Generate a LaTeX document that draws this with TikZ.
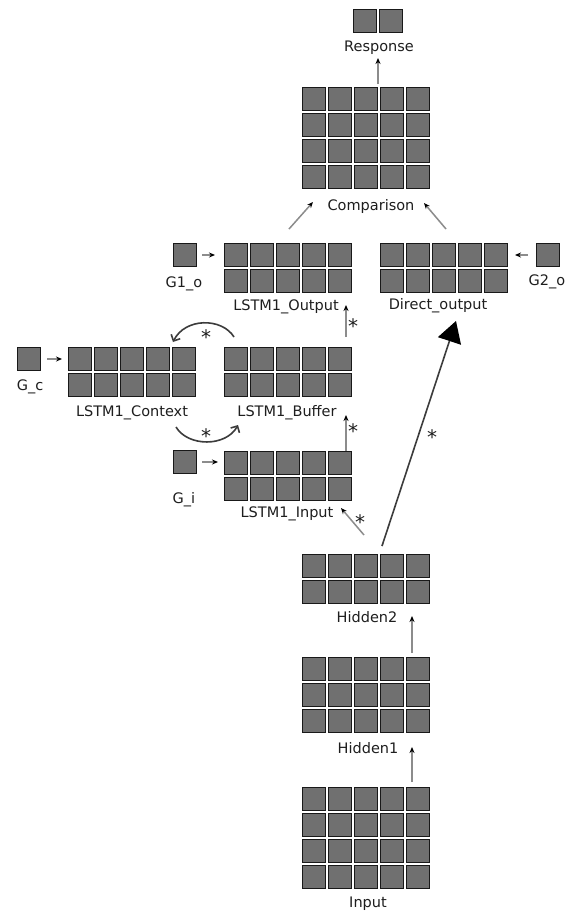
\documentclass[tikz,border=0pt]{standalone}
\usepackage{fontspec}
\setmainfont{DejaVu Sans}
\usetikzlibrary{arrows.meta,calc}
\definecolor{cellfill}{RGB}{112,112,112}
\definecolor{celledge}{RGB}{25,25,25}
\definecolor{arrowgray}{RGB}{140,140,140}
\definecolor{bigarrow}{RGB}{60,60,60}
\definecolor{txt}{RGB}{30,30,30}
\tikzset{
  cell/.style={fill=cellfill,draw=celledge,line width=1pt},
  gridbox/.style={rectangle,inner sep=0pt,outer sep=0pt,draw=none},
  lbl/.style={font=\fontsize{14.5}{16}\selectfont,text=txt,inner sep=1pt},
  starlbl/.style={font=\fontsize{20}{20}\selectfont,text=txt,inner sep=0pt},
  garrow/.style={draw=arrowgray,line width=1.5pt,-{Stealth[length=6pt,width=5pt,color=black]}},
  curvearrow/.style={draw=bigarrow,line width=1.6pt,-{Straight Barb[length=5pt,width=10pt]}},
  bigarr/.style={draw=bigarrow,line width=1.6pt,-{Triangle[length=21pt,width=24pt,color=black]}}
}
\newcommand{\cellgrid}[5]{%
  \pgfmathsetmacro{\gw}{(#4-1)*26+24}%
  \pgfmathsetmacro{\gh}{(#5-1)*26+24}%
  \node[gridbox,minimum width=\gw pt,minimum height=\gh pt] (#1) at ({#2+\gw/2},{#3+\gh/2}) {};
  \foreach \ci in {1,...,#4}{\foreach \cj in {1,...,#5}{%
    \draw[cell] ({#2+(\ci-1)*26+0.5},{#3+(\cj-1)*26+0.5}) rectangle ++(23,23);}}%
}
\begin{document}
\begin{tikzpicture}[x=1pt,y=-1pt]
\fill[white] (0,0) rectangle (572,911);
\useasboundingbox (0,0) rectangle (572,911);
% grids
\cellgrid{Response}{353}{9}{2}{1}
\cellgrid{Comparison}{302}{87}{5}{4}
\cellgrid{LO}{224}{243}{5}{2}
\cellgrid{DO}{380}{243}{5}{2}
\cellgrid{Gone}{173}{243}{1}{1}
\cellgrid{Gtwo}{536}{243}{1}{1}
\cellgrid{Gc}{17}{347}{1}{1}
\cellgrid{Ctx}{68}{347}{5}{2}
\cellgrid{Buf}{224}{347}{5}{2}
\cellgrid{Gi}{173}{450}{1}{1}
\cellgrid{LIn}{224}{451}{5}{2}
\cellgrid{Htwo}{302}{554}{5}{2}
\cellgrid{Hone}{302}{657}{5}{3}
\cellgrid{In}{302}{787}{5}{4}
% labels
\node[lbl] (ResponseL) at (379,48) {Response};
\node[lbl] (ComparisonL) at (371,206) {Comparison};
\node[lbl] (GoneL) at (184,284) {G1\_o};
\node[lbl] (LOL) at (286,307) {LSTM1\_Output};
\node[lbl] (DOL) at (438,306) {Direct\_output};
\node[lbl] (GtwoL) at (547,282) {G2\_o};
\node[lbl] (GcL) at (30,387) {G\_c};
\node[lbl] (CtxL) at (132,413) {LSTM1\_Context};
\node[lbl] (BufL) at (287,413) {LSTM1\_Buffer};
\node[lbl] (GiL) at (184,500) {G\_i};
\node[lbl] (LInL) at (287,514) {LSTM1\_Input};
\node[lbl] (HtwoL) at (367,617) {Hidden2};
\node[lbl] (HoneL) at (368,748) {Hidden1};
\node[lbl] (InL) at (368,904) {Input};
% short arrows
\draw[garrow] ($(Comparison.north)+(12,-3)$) -- ($(Response.south)+(0,25)$);
\draw[garrow] ($(LO.north)+(1,-14)$) -- ($(Comparison.south west)+(11,13)$);
\draw[garrow] ($(DO.north)+(2,-14)$) -- ($(Comparison.south east)+(-6,14)$);
\draw[garrow] ($(Gone.east)+(5,0)$) -- ($(LO.west |- Gone.east)+(-9,0)$);
\draw[garrow] ($(Gtwo.west)+(-8,0)$) -- ($(DO.east |- Gtwo.west)+(7,0)$);
\draw[garrow] ($(Gc.east)+(6,0)$) -- ($(Ctx.west |- Gc.east)+(-6,0)$);
\draw[garrow] ($(Gi.east)+(5,0)$) -- ($(LIn.west |- Gi.east)+(-6,0)$);
\draw[garrow] ($(Buf.north east)+(-6,-10)$) -- ($(LO.south east)+(-6,12)$);
\draw[garrow] ($(LIn.north east)+(-6,0)$) -- ($(Buf.south east)+(-6,18)$);
\draw[garrow] ($(Htwo.north)+(-2,-19)$) -- ($(LIn.south east)+(-11,7)$);
\draw[garrow] ($(Hone.north east)+(-18,-4)$) -- ($(Htwo.south east)+(-18,12)$);
\draw[garrow] ($(In.north east)+(-18,-5)$) -- ($(Hone.south east)+(-18,14)$);
% big arrow
\draw[bigarr] ($(Htwo.north)+(16,-8)$) -- ($(DO.south)+(12,28)$);
% curved arrows
\draw[curvearrow] ($(Buf.north west)+(10,-10)$) .. controls +(-12,-19.5) and +(12,-24.5) .. ($(Ctx.north east)+(-23,-5)$);
\draw[curvearrow] ($(Ctx.south east)+(-20,30)$) .. controls +(12,20) and +(-12,22) .. ($(Buf.south west)+(14,28)$);
% stars
\node[starlbl] (s1) at (353,326) {*};
\node[starlbl] (s2) at (353,431) {*};
\node[starlbl] (s3) at (360,522) {*};
\node[starlbl] (s4) at (432,437) {*};
\node[starlbl] (s5) at (206,337) {*};
\node[starlbl] (s6) at (206,436) {*};
\end{tikzpicture}
\end{document}
